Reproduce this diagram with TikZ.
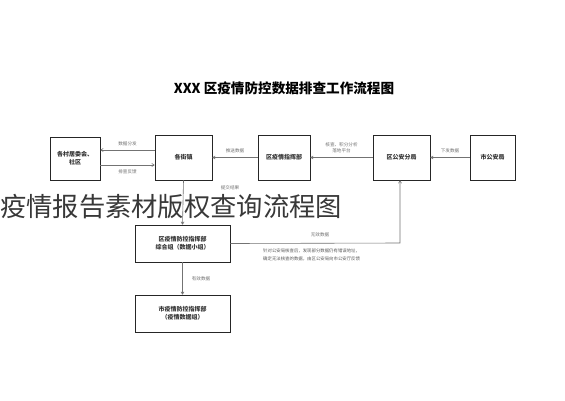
\documentclass[tikz,border=0pt]{standalone}
\usepackage{fontspec}
\setmainfont{Noto Sans CJK SC}
\usetikzlibrary{arrows.meta}
\begin{document}
\begin{tikzpicture}[x=1pt,y=-1pt,
  box/.style={draw=black!85,line width=0.9pt,minimum width=#1,inner sep=1pt,align=center,font=\fontsize{6}{8}\selectfont\bfseries,text=black!80},
  box/.default=52pt,
  lbl/.style={font=\fontsize{4.6}{6}\selectfont,text=black!55,inner sep=1pt,align=center},
  conn/.style={draw=black!55,line width=0.6pt,-{To[length=3pt,width=3.5pt]}},
  line/.style={draw=black!55,line width=0.6pt}]
\useasboundingbox[fill=white] (0,0) rectangle (565,400);
% title
\node (title) at (284,88) {\fontsize{13.6}{15}\selectfont\bfseries XXX 区疫情防控数据排查工作流程图};
% boxes
\node[box=50pt,minimum height=43pt] (A) at (75,158.5) {各村居委会、\\社区};
\node[box=57pt,minimum height=45pt] (B) at (183.5,157.5) {各街镇};
\node[box=52pt,minimum height=45pt] (C) at (284,157.5) {区疫情指挥部};
\node[box=57pt,minimum height=45pt] (D) at (401.5,157.5) {区公安分局};
\node[box=45pt,minimum height=45pt] (E) at (492.5,157.5) {市公安局};
\node[box=95pt,minimum height=37pt] (F) at (182.5,243.5) {区疫情防控指挥部\\综合组（数据小组）};
\node[box=95pt,minimum height=37pt] (G) at (182.5,313.5) {市疫情防控指挥部\\（疫情数据组）};
% horizontal connectors
\draw[conn] (E.west) -- (D.east) node[lbl,midway,above=3pt] (l1) {下发数据};
\draw[conn] (D.west) -- (C.east) node[lbl,midway,above=3pt] (l2) {核查、积分分析\\落地平台};
\draw[conn] (C.west) -- (B.east) node[lbl,midway,above=3pt] (l3) {推送数据};
\draw[conn] (B.west |- 0,150) -- (A.east |- 0,150) node[lbl,midway,above=3pt] (l4) {数据分发};
\draw[conn] (A.east |- 0,165) -- (B.west |- 0,165) node[lbl,midway,below=3pt] (l5) {排查反馈};
% vertical B -> F
\draw[conn] (B.south) -- (F.north);
\node[lbl] (l6) at (230,188) {提交结果};
% F -> D (invalid data)
\coordinate (corner) at (400,243);
\draw[conn] (F.east) -- (corner) -- (D.south -| corner);
\node[lbl] (l7) at (320,235) {无效数据};
\node[lbl,anchor=north west,align=left,text=black!65,font=\fontsize{4.4}{7.5}\selectfont] (note) at (262,248) {针对公安局核查后，发现部分数据仍有错误地址，\\确定无法核查的数据，由区公安局向市公安厅反馈};
% F -> G
\draw[conn] (F.south) -- (G.north) node[lbl,midway,right=8pt] (l8) {有效数据};
% watermark overlay
\node[anchor=west,inner sep=0pt,text=black!78] (wm) at (0,207) {\fontsize{26.3}{28}\selectfont 疫情报告素材版权查询流程图};
\end{tikzpicture}
\end{document}
